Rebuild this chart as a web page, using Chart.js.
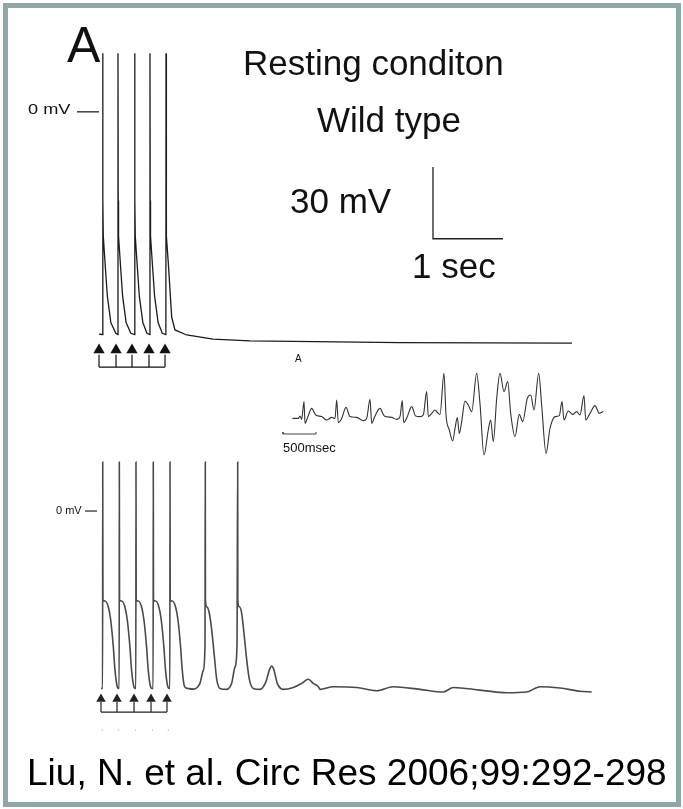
<!DOCTYPE html>
<html>
<head>
<meta charset="utf-8">
<script src="https://cdn.jsdelivr.net/npm/chart.js@4.4.1/dist/chart.umd.min.js"></script>
<style>
  body { margin: 0; width: 683px; height: 809px; background: #fff; position: relative; overflow: hidden; font-family: "Liberation Sans", Arial, sans-serif; }
  .frame { position: absolute; left: 3px; top: 3px; width: 668px; height: 794px; border: 5px solid #8ea7a8; background: #fff; }
  canvas { position: absolute; }
  .t { position: absolute; white-space: nowrap; color: #111; }
</style>
</head>
<body>
<div class="frame"></div>
<canvas id="wt" width="683" height="340" style="left:0;top:40px"></canvas>
<canvas id="ecg" width="350" height="120" style="left:270px;top:350px"></canvas>
<canvas id="mut" width="683" height="300" style="left:0;top:440px"></canvas>

<div class="t" style="left:67px;top:20px;font-size:50px;line-height:50px">A</div>
<div class="t" style="left:243px;top:45px;font-size:35px;line-height:35px">Resting conditon</div>
<div class="t" style="left:317px;top:102px;font-size:35px;line-height:35px">Wild type</div>
<div class="t" style="left:290px;top:183px;font-size:35px;line-height:35px">30 mV</div>
<div class="t" style="left:412px;top:248px;font-size:35px;line-height:35px">1 sec</div>
<div class="t" style="left:28px;top:102px;font-size:14px;line-height:14px;transform:scaleX(1.3);transform-origin:left">0 mV</div>
<div class="t" style="left:56px;top:505px;font-size:11px;line-height:11px">0 mV</div>
<div class="t" style="left:295px;top:354px;font-size:10px;line-height:10px">A</div>
<div class="t" style="left:283px;top:441px;font-size:13px;line-height:13px">500msec</div>
<div class="t" style="left:27px;top:754px;font-size:37px;line-height:37px;color:#000">Liu, N. et al. Circ Res 2006;99:292-298</div>

<script>
// Wild type, resting: paced action potentials (time in s, membrane potential in mV)
const wtTime = [
  -0.014, 0.035, 0.039, 0.042, 0.047, 0.072, 0.105, 0.155, 0.225, 0.255,
  0.257, 0.260, 0.265, 0.290, 0.323, 0.373, 0.440, 0.494,
  0.496, 0.499, 0.504, 0.529, 0.562, 0.612, 0.670, 0.712,
  0.714, 0.717, 0.722, 0.747, 0.780, 0.830, 0.890, 0.941,
  0.943, 0.946, 0.951, 0.976, 1.024, 1.071, 1.239, 1.614, 2.143, 4.286, 6.743
];
const wtVolt = [
  -92.8, -93, 24.5, -37, -52, -63, -77, -88, -92.5, -93,
  24.5, -37, -52, -63, -77, -88, -92.5, -93,
  24.5, -37, -52, -63, -77, -88, -92.5, -93,
  24.5, -37, -52, -63, -77, -88, -92.5, -93,
  24.5, -37, -52, -63.2, -85.7, -91.1, -93.2, -94.9, -95.7, -96.4, -96.6
];

// mutant: paced APs followed by triggered beats and afterdepolarizations
const mutTime = [
  0.014, 0.037, 0.039, 0.042, 0.071, 0.119, 0.153, 0.190, 0.214, 0.247, 0.267, 0.274,
  0.276, 0.279, 0.308, 0.356, 0.390, 0.427, 0.451, 0.484, 0.504, 0.512,
  0.514, 0.517, 0.546, 0.594, 0.628, 0.665, 0.689, 0.722, 0.742, 0.759,
  0.761, 0.764, 0.793, 0.841, 0.875, 0.912, 0.936, 0.969, 0.989, 0.998,
  1.000, 1.003, 1.032, 1.080, 1.114, 1.151, 1.175, 1.208, 1.250, 1.333, 1.429, 1.476, 1.500, 1.504,
  1.506, 1.524, 1.561, 1.596, 1.633, 1.667, 1.714, 1.810, 1.881, 1.929, 1.957, 1.967,
  1.969, 1.990, 2.024, 2.057, 2.096, 2.133, 2.190, 2.286, 2.371, 2.419, 2.453, 2.486, 2.533,
  2.619, 2.761, 2.881, 2.976, 3.047, 3.119,
  3.143, 3.333, 3.667, 3.953, 4.190, 4.571, 4.904, 5.047, 5.429, 5.810, 6.096, 6.286, 6.571, 6.857, 7.024
];
const mutVolt = [
  -73.9, -73.9, 20.4, -37, -37.5, -40, -45.4, -56.5, -66.3, -73.2, -73.9, -73.9,
  20.4, -37, -37.5, -40, -45.4, -56.5, -66.3, -73.2, -73.9, -73.9,
  20.4, -37, -37.5, -40, -45.4, -56.5, -66.3, -73.2, -73.9, -73.9,
  20.4, -37, -37.5, -40, -45.4, -56.5, -66.3, -73.2, -73.9, -73.9,
  20.4, -37, -37.5, -40, -45.4, -56.5, -66.3, -73.2, -73.9, -74.2, -71.7, -66.3, -56, 20.4,
  -37, -39.9, -42.5, -49.6, -60.3, -70, -73.9, -74.3, -71.8, -64.9, -56.5, 20.4,
  -37, -39.9, -42.6, -51, -62, -70, -73.9, -74.3, -71.1, -66.3, -64.6, -66.3, -71.8,
  -74.3, -73.5, -71.8, -70.1, -71.8, -73.2,
  -74.3, -73.2, -73.5, -74.9, -73.2, -74.3, -75.4, -73.5, -74.6, -75.7, -75.4, -73.2, -73.75, -75.1, -75.4
];

// stimulus times (s)
const wtStim = [-0.014, 0.229, 0.457, 0.700, 0.929];
const mutStim = [0.014, 0.243, 0.486, 0.729, 0.957];

// inset ECG (time in ms, amplitude in mV)
const ecgTime = [
  5, 96, 121, 146, 182, 197, 237, 298, 359, 449, 525, 601, 651, 677, 701, 752, 818, 878,
  979, 1080, 1131, 1181, 1207, 1247, 1332, 1398, 1509, 1585, 1635, 1670, 1691, 1741, 1812,
  1873, 1938, 1988, 2039, 2064, 2115, 2165, 2215, 2241, 2301, 2332, 2382, 2433, 2468, 2503,
  2533, 2569, 2619, 2669, 2721, 2796, 2846, 2907, 2972, 3008, 3048, 3099, 3149, 3210, 3266,
  3311, 3376, 3441, 3493, 3562, 3614, 3664, 3735, 3780, 3846, 3906, 3982, 4047, 4088, 4118,
  4183, 4250, 4310, 4360, 4421, 4447, 4512, 4587, 4653, 4713
];
const ecgAmp = [
  -0.07, -0.07, 0.05, -0.12, 0.77, -0.32, -0.02, 0.43, 0.1, 0.02, -0.15, -0.02, -0.07, 0.85, -0.28, -0.07, 0.48, 0.02,
  -0.02, -0.18, -0.07, 0.88, -0.32, -0.02, 0.43, 0.05, -0.02, -0.12, 0.02, 0.82, -0.28, -0.02, 0.52,
  0.05, 0.02, 0.1, 1.27, 0.02, 0.18, 0.35, 0.18, 0.13, 2.18, 0.1, -0.65, -1.2, -0.57, -0.03,
  -0.82, -0.23, 0.8, 0.6, 0.27, 2.18, 0.68, -1.9, -0.65, -0.15, -1.23, 0.93, 2.18, 1.27, 1.77,
  0.18, -0.98, 0.13, -0.23, 0.93, 1.1, 0.35, 2.18, 0.6, -1.82, -0.57, 0.02, 0.07, 0.77, -0.15,
  0.3, 0.13, 0.27, 0.1, 1.07, -0.15, 0.18, 0.57, 0.18, 0.27
];

const toXY = (xs, ys) => xs.map((x, i) => ({ x, y: ys[i] }));

function stimulusSets(times, tip, stemTop, stemBottom, headRadius, color) {
  const stems = times.flatMap((t) => [{ x: t, y: stemTop }, { x: t, y: stemBottom }, { x: t, y: null }]);
  return [
    {
      data: times.map((t) => ({ x: t, y: tip })),
      showLine: false,
      pointStyle: "triangle",
      pointRadius: headRadius,
      backgroundColor: color,
      borderColor: color,
      borderWidth: 0,
    },
    { data: stems, borderColor: color, borderWidth: 1.2, spanGaps: false },
    {
      data: [{ x: times[0], y: stemBottom }, { x: times[times.length - 1], y: stemBottom }],
      borderColor: color,
      borderWidth: 1.2,
    },
  ];
}

function baseOptions(xMin, xMax, yMin, yMax) {
  return {
    responsive: false,
    animation: false,
    devicePixelRatio: 1,
    layout: { padding: 0, autoPadding: false },
    elements: { point: { radius: 0 }, line: { tension: 0 } },
    plugins: { legend: { display: false }, tooltip: { enabled: false } },
    scales: {
      x: { type: "linear", display: false, min: xMin, max: xMax },
      y: { type: "linear", display: false, min: yMin, max: yMax },
    },
  };
}

// top panel: wild type
new Chart(document.getElementById("wt"), {
  type: "line",
  data: {
    datasets: [
      { data: toXY(wtTime, wtVolt), borderColor: "#1c1c1c", borderWidth: 1.3 },
      { data: [{ x: -0.329, y: 0 }, { x: -0.014, y: 0 }], borderColor: "#222", borderWidth: 1.3 },
      {
        data: [{ x: 4.757, y: -23 }, { x: 4.757, y: -53 }, { x: 5.757, y: -53 }],
        borderColor: "#222",
        borderWidth: 1.3,
      },
      ...stimulusSets(wtStim, -99.5, -101.5, -106.6, 6.5, "#111"),
    ],
  },
  options: baseOptions(-1.4286, 8.3286, -112, 30),
});

// bottom panel: mutant
new Chart(document.getElementById("mut"), {
  type: "line",
  data: {
    datasets: [
      {
        data: toXY(mutTime, mutVolt),
        borderColor: "#4a4a4a",
        borderWidth: 1.6,
        cubicInterpolationMode: "monotone",
      },
      { data: [{ x: -0.214, y: 0 }, { x: -0.043, y: 0 }], borderColor: "#333", borderWidth: 1.3 },
      ...stimulusSets(mutStim, -78.3, -79.6, -83.75, 5.5, "#222"),
      {
        data: mutStim.map((t) => ({ x: t + 0.02, y: -91.3 })),
        showLine: false,
        pointRadius: 0.8,
        backgroundColor: "#ccc",
        borderWidth: 0,
      },
    ],
  },
  options: baseOptions(-1.4286, 8.3286, -95.4, 29.6),
});

// inset ECG
new Chart(document.getElementById("ecg"), {
  type: "line",
  data: {
    datasets: [
      {
        data: toXY(ecgTime, ecgAmp),
        borderColor: "#333",
        borderWidth: 1.1,
        cubicInterpolationMode: "monotone",
      },
      {
        data: [
          { x: -136, y: -0.75 }, { x: -136, y: -0.85 }, { x: 364, y: -0.85 }, { x: 364, y: -0.75 },
        ],
        borderColor: "#444",
        borderWidth: 1,
      },
    ],
  },
  options: baseOptions(-333, 4966, -2.65, 3.35),
});
</script>
</body>
</html>
